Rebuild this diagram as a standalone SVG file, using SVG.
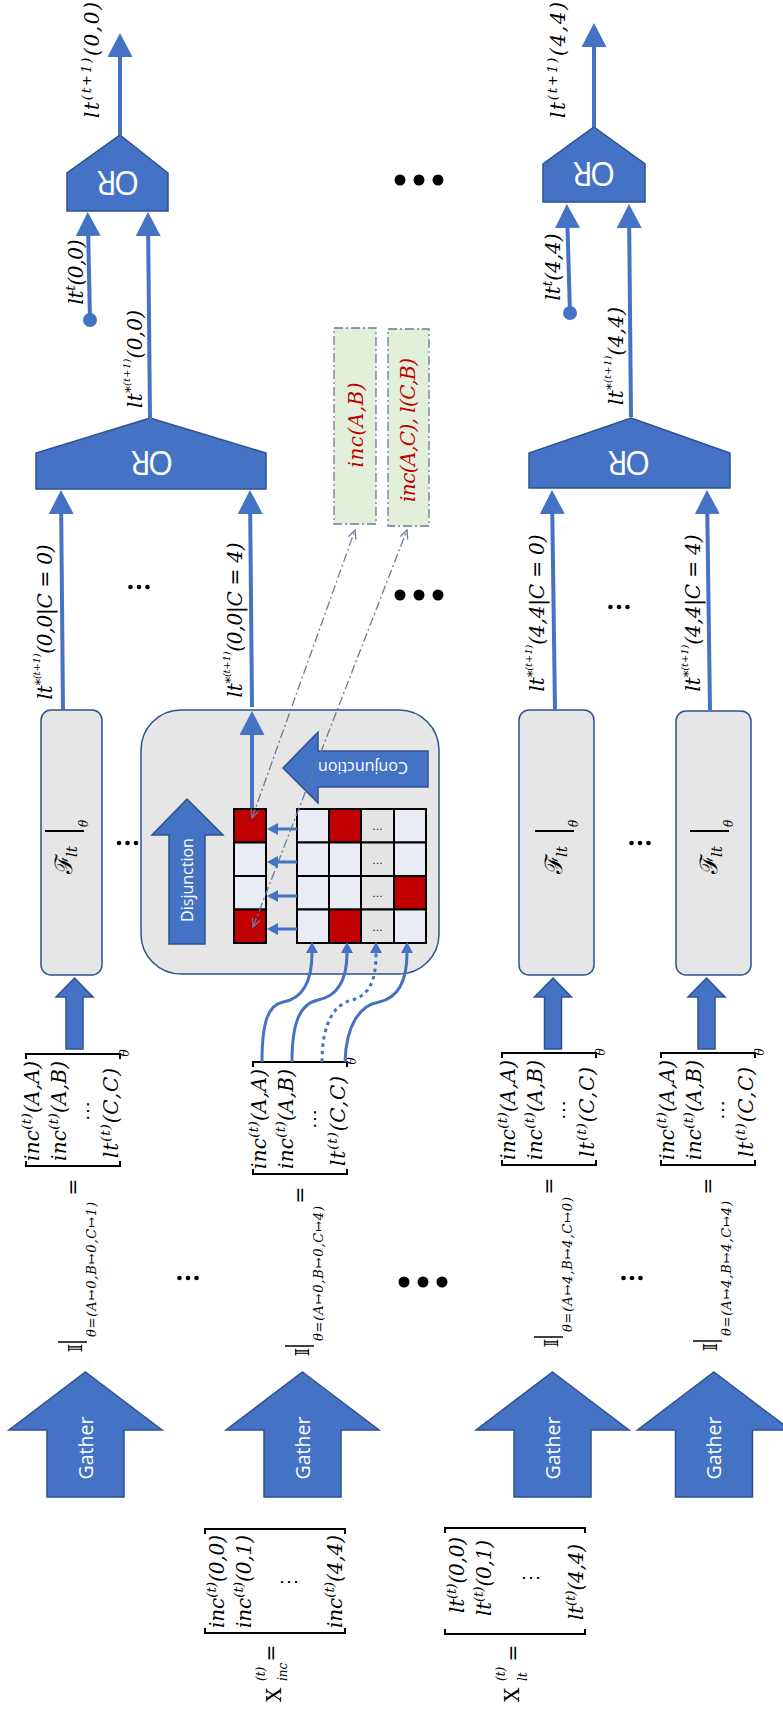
<svg xmlns="http://www.w3.org/2000/svg" width="783" height="1709" viewBox="0 0 783 1709">
<defs>
<style>
.blue{fill:#4472c4;stroke:#2f528f;stroke-width:1.5}
.conn{stroke:#4472c4;stroke-width:4;fill:none}
.thin{stroke:#4472c4;stroke-width:3;fill:none}
.m{font-family:"DejaVu Serif","Liberation Serif",serif;font-style:italic;font-size:20px;fill:#000}
.r{font-style:normal}
.s{font-size:13.5px}
.w{font-family:"Open Sans","Liberation Sans",sans-serif;fill:#fff}
.or{font-size:32px}
.br{fill:none;stroke:#000;stroke-width:2}
.cell{fill:#e9ebf5;stroke:#000;stroke-width:2}
.red{fill:#c00000}
.grey{fill:#e4e4e4}
.fbox{fill:#e6e6e6;stroke:#2f528f;stroke-width:1.5}
.note{fill:#e2efda;stroke:#6a7a99;stroke-width:1.3;stroke-dasharray:9 3 2 3}
.dd{stroke:#6a7a99;stroke-width:1.3;fill:none;stroke-dasharray:9 3 2 3}
.dot{fill:#000}
.rt{fill:#c00000}
</style>
<marker id="ah" markerUnits="userSpaceOnUse" markerWidth="24" markerHeight="25" refX="0" refY="12.5" orient="auto" viewBox="0 0 24 25"><path d="M0,0 L24,12.5 L0,25 z" fill="#4472c4"/></marker>
<marker id="ahs" markerUnits="userSpaceOnUse" markerWidth="11" markerHeight="12" refX="0" refY="6" orient="auto" viewBox="0 0 11 12"><path d="M0,0 L11,6 L0,12 z" fill="#4472c4"/></marker>
<marker id="open" markerUnits="userSpaceOnUse" markerWidth="10" markerHeight="10" refX="9" refY="5" orient="auto-start-reverse" viewBox="0 0 10 10"><path d="M0.5,1 L9,5 L0.5,9" fill="none" stroke="#6a7a99" stroke-width="1.3"/></marker>
</defs>
<rect width="783" height="1709" fill="#fff"/>

<!-- OR gates -->
<g id="or-small-00">
  <polygon class="blue" points="120,135 168,173 168,211 67,211 67,173"/>
  <text class="w or" text-anchor="middle" textLength="42" transform="translate(118,182) rotate(180)" y="11">OR</text>
</g>
<g id="or-small-44">
  <polygon class="blue" points="594,127 645,164 645,202 543,202 543,164"/>
  <text class="w or" text-anchor="middle" textLength="42" transform="translate(594,173) rotate(180)" y="11">OR</text>
</g>
<g id="or-big-00">
  <polygon class="blue" points="150,418 266,453 266,489 36,489 36,453"/>
  <text class="w or" text-anchor="middle" textLength="42" transform="translate(152,462) rotate(180)" y="11">OR</text>
</g>
<g id="or-big-44">
  <polygon class="blue" points="631,418 730,453 730,488 529,488 529,453"/>
  <text class="w or" text-anchor="middle" textLength="42" transform="translate(629,462) rotate(180)" y="11">OR</text>
</g>

<!-- arrow labels -->
<g id="labels">
  <text class="m" text-anchor="middle" textLength="116" transform="translate(99,60) rotate(-90)">lt<tspan class="s" dy="-8">(t+1)</tspan><tspan dy="8">(0,0)</tspan></text>
  <text class="m" text-anchor="middle" textLength="116" transform="translate(565,60) rotate(-90)">lt<tspan class="s" dy="-8">(t+1)</tspan><tspan dy="8">(4,4)</tspan></text>
  <text class="m" text-anchor="middle" textLength="65" transform="translate(83,272) rotate(-90)">lt<tspan class="s" dy="-8">t</tspan><tspan dy="8">(0,0)</tspan></text>
  <text class="m" text-anchor="middle" textLength="67" transform="translate(560,267) rotate(-90)">lt<tspan class="s" dy="-8">t</tspan><tspan dy="8">(4,4)</tspan></text>
  <text class="m" text-anchor="middle" textLength="98" transform="translate(142,359) rotate(-90)">lt<tspan class="s" dy="-7">*</tspan><tspan style="font-size:10px" dy="-5">(t+1)</tspan><tspan dy="12">(0,0)</tspan></text>
  <text class="m" text-anchor="middle" textLength="98" transform="translate(623,356) rotate(-90)">lt<tspan class="s" dy="-7">*</tspan><tspan style="font-size:10px" dy="-5">(t+1)</tspan><tspan dy="12">(4,4)</tspan></text>
  <text class="m" text-anchor="middle" textLength="155" transform="translate(52,622) rotate(-90)">lt<tspan class="s" dy="-7">*</tspan><tspan style="font-size:10px" dy="-5">(t+1)</tspan><tspan dy="12">(0,0|C = 0)</tspan></text>
  <text class="m" text-anchor="middle" textLength="155" transform="translate(242,620) rotate(-90)">lt<tspan class="s" dy="-7">*</tspan><tspan style="font-size:10px" dy="-5">(t+1)</tspan><tspan dy="12">(0,0|C = 4)</tspan></text>
  <text class="m" text-anchor="middle" textLength="157" transform="translate(544,613) rotate(-90)">lt<tspan class="s" dy="-7">*</tspan><tspan style="font-size:10px" dy="-5">(t+1)</tspan><tspan dy="12">(4,4|C = 0)</tspan></text>
  <text class="m" text-anchor="middle" textLength="157" transform="translate(700,613) rotate(-90)">lt<tspan class="s" dy="-7">*</tspan><tspan style="font-size:10px" dy="-5">(t+1)</tspan><tspan dy="12">(4,4|C = 4)</tspan></text>
</g>

<!-- ellipses -->
<g id="ellipses" class="dot">
  <circle cx="400" cy="180" r="5.5"/><circle cx="419" cy="180" r="5.5"/><circle cx="438" cy="180" r="5.5"/>
  <circle cx="400" cy="595" r="5.5"/><circle cx="419" cy="595" r="5.5"/><circle cx="438" cy="595" r="5.5"/>
  <circle cx="404" cy="1282" r="5.5"/><circle cx="423" cy="1282" r="5.5"/><circle cx="442" cy="1282" r="5.5"/>
  <circle cx="130.5" cy="587" r="2.3"/><circle cx="139" cy="587" r="2.3"/><circle cx="147.5" cy="587" r="2.3"/>
  <circle cx="610.5" cy="607" r="2.3"/><circle cx="619" cy="607" r="2.3"/><circle cx="627.5" cy="607" r="2.3"/>
  <circle cx="119" cy="843" r="2.3"/><circle cx="127.5" cy="843" r="2.3"/><circle cx="136" cy="843" r="2.3"/>
  <circle cx="631.5" cy="843" r="2.3"/><circle cx="640" cy="843" r="2.3"/><circle cx="648.5" cy="843" r="2.3"/>
  <circle cx="179.5" cy="1278" r="2.3"/><circle cx="188" cy="1278" r="2.3"/><circle cx="196.5" cy="1278" r="2.3"/>
  <circle cx="623.5" cy="1278" r="2.3"/><circle cx="632" cy="1278" r="2.3"/><circle cx="640.5" cy="1278" r="2.3"/>
</g>

<!-- witness notes -->
<g id="note-incAB">
  <rect class="note" x="334" y="328" width="42" height="196"/>
  <text class="m rt" text-anchor="middle" textLength="85" transform="translate(363,425) rotate(-90)">inc(A,B)</text>
</g>
<g id="note-incAC-lCB">
  <rect class="note" x="388" y="329" width="41" height="197"/>
  <text class="m rt" text-anchor="middle" textLength="144" transform="translate(415,430) rotate(-90)">inc(A,C), l(C,B)</text>
</g>

<!-- F_lt blocks -->
<g id="f-block-1">
  <rect class="fbox" x="41" y="710" width="61" height="265" rx="10"/>
  <text class="m r" style="font-size:24px" transform="translate(72,874) rotate(-90)">ℱ</text>
  <text class="m" style="font-size:15px" transform="translate(77,857) rotate(-90)">lt</text>
  <line x1="45" y1="831" x2="84" y2="831" stroke="#000" stroke-width="2"/>
  <text class="m" style="font-size:12px" transform="translate(88,827) rotate(-90)">θ</text>
</g>
<g id="f-block-3">
  <rect class="fbox" x="519" y="710" width="75" height="265" rx="10"/>
  <g transform="translate(490,0)">
    <text class="m r" style="font-size:24px" transform="translate(72,874) rotate(-90)">ℱ</text>
    <text class="m" style="font-size:15px" transform="translate(77,857) rotate(-90)">lt</text>
    <line x1="45" y1="831" x2="84" y2="831" stroke="#000" stroke-width="2"/>
    <text class="m" style="font-size:12px" transform="translate(88,827) rotate(-90)">θ</text>
  </g>
</g>
<g id="f-block-4">
  <rect class="fbox" x="676" y="711" width="75" height="264" rx="10"/>
  <g transform="translate(645,0)">
    <text class="m r" style="font-size:24px" transform="translate(72,874) rotate(-90)">ℱ</text>
    <text class="m" style="font-size:15px" transform="translate(77,857) rotate(-90)">lt</text>
    <line x1="45" y1="831" x2="84" y2="831" stroke="#000" stroke-width="2"/>
    <text class="m" style="font-size:12px" transform="translate(88,827) rotate(-90)">θ</text>
  </g>
</g>

<!-- expanded F_lt block: conjunction over rows, disjunction over the result -->
<g id="f-block-2-expanded">
  <rect class="fbox" x="141" y="710" width="298" height="264" rx="40"/>
  <polygon class="blue" points="187,799 223,835 205,835 205,944 169,944 169,835 152,835"/>
  <text class="w" style="font-size:16px" text-anchor="middle" transform="translate(193,880) rotate(-90)">Disjunction</text>
  <polygon class="blue" points="283,768 318,732 318,751 428,751 428,787 318,787 318,803"/>
  <text class="w" style="font-size:16px" text-anchor="middle" transform="translate(363,768) rotate(180)" y="5.7">Conjunction</text>
  <path class="conn" d="M252,809 L252,735" marker-end="url(#ah)"/>
  <!-- result column -->
  <rect class="cell red" x="234" y="809" width="32" height="33.5"/>
  <rect class="cell" x="234" y="842.5" width="32" height="33.5"/>
  <rect class="cell" x="234" y="876" width="32" height="33.5"/>
  <rect class="cell red" x="234" y="909.5" width="32" height="33.5"/>
  <!-- truth matrix -->
  <rect class="cell" x="297" y="809" width="32" height="33.5"/>
  <rect class="cell red" x="329" y="809" width="32" height="33.5"/>
  <rect class="cell grey" x="361" y="809" width="33" height="33.5"/>
  <rect class="cell" x="394" y="809" width="32" height="33.5"/>
  <rect class="cell" x="297" y="842.5" width="32" height="33.5"/>
  <rect class="cell" x="329" y="842.5" width="32" height="33.5"/>
  <rect class="cell grey" x="361" y="842.5" width="33" height="33.5"/>
  <rect class="cell" x="394" y="842.5" width="32" height="33.5"/>
  <rect class="cell" x="297" y="876" width="32" height="33.5"/>
  <rect class="cell" x="329" y="876" width="32" height="33.5"/>
  <rect class="cell grey" x="361" y="876" width="33" height="33.5"/>
  <rect class="cell red" x="394" y="876" width="32" height="33.5"/>
  <rect class="cell" x="297" y="909.5" width="32" height="33.5"/>
  <rect class="cell red" x="329" y="909.5" width="32" height="33.5"/>
  <rect class="cell grey" x="361" y="909.5" width="33" height="33.5"/>
  <rect class="cell" x="394" y="909.5" width="32" height="33.5"/>
  <g font-family="Liberation Sans, sans-serif" font-size="11" text-anchor="middle" fill="#000">
    <text x="377.5" y="830">…</text><text x="377.5" y="863.5">…</text><text x="377.5" y="897">…</text><text x="377.5" y="930.5">…</text>
  </g>
  <path class="thin" d="M297,829 L278,829" marker-end="url(#ahs)"/>
  <path class="thin" d="M297,862 L278,862" marker-end="url(#ahs)"/>
  <path class="thin" d="M297,896 L278,896" marker-end="url(#ahs)"/>
  <path class="thin" d="M297,929 L278,929" marker-end="url(#ahs)"/>
</g>

<!-- gathered vectors for each theta -->
<g id="theta-1">
  <path class="br" d="M26,1059 V1054 H120 V1059 M26,1161 V1166 H120 V1161"/>
  <text class="m" text-anchor="middle" textLength="100" transform="translate(39,1111) rotate(-90)">inc<tspan class="s" dy="-8">(t)</tspan><tspan dy="8">(A,A)</tspan></text>
  <text class="m" text-anchor="middle" textLength="100" transform="translate(65.5,1111) rotate(-90)">inc<tspan class="s" dy="-8">(t)</tspan><tspan dy="8">(A,B)</tspan></text>
  <text class="m r" text-anchor="middle" transform="translate(94,1111) rotate(-90)">⋯</text>
  <text class="m" text-anchor="middle" textLength="90" transform="translate(118,1113) rotate(-90)">lt<tspan class="s" dy="-8">(t)</tspan><tspan dy="8">(C,C)</tspan></text>
  <text class="m" style="font-size:12px" text-anchor="middle" transform="translate(129,1053) rotate(-90)">θ</text>
  <text class="m r" text-anchor="middle" transform="translate(80,1187) rotate(-90)">=</text>
  <text class="m r" style="font-size:18px" text-anchor="middle" transform="translate(82,1348) rotate(-90)">𝕀</text>
  <line x1="58" y1="1342" x2="87" y2="1342" stroke="#000" stroke-width="1.5"/>
  <text class="m" style="font-size:13px" textLength="135" transform="translate(96,1337) rotate(-90)">θ=(A↦0,B↦0,C↦1)</text>
</g>
<g id="theta-2" transform="translate(227,8)">
  <path class="br" d="M26,1059 V1054 H120 V1059 M26,1161 V1166 H120 V1161"/>
  <text class="m" text-anchor="middle" textLength="100" transform="translate(39,1111) rotate(-90)">inc<tspan class="s" dy="-8">(t)</tspan><tspan dy="8">(A,A)</tspan></text>
  <text class="m" text-anchor="middle" textLength="100" transform="translate(65.5,1111) rotate(-90)">inc<tspan class="s" dy="-8">(t)</tspan><tspan dy="8">(A,B)</tspan></text>
  <text class="m r" text-anchor="middle" transform="translate(94,1111) rotate(-90)">⋯</text>
  <text class="m" text-anchor="middle" textLength="90" transform="translate(118,1113) rotate(-90)">lt<tspan class="s" dy="-8">(t)</tspan><tspan dy="8">(C,C)</tspan></text>
  <text class="m" style="font-size:12px" text-anchor="middle" transform="translate(129,1053) rotate(-90)">θ</text>
  <text class="m r" text-anchor="middle" transform="translate(80,1187) rotate(-90)">=</text>
  <text class="m r" style="font-size:18px" text-anchor="middle" transform="translate(82,1344) rotate(-90)">𝕀</text>
  <line x1="58" y1="1338" x2="87" y2="1338" stroke="#000" stroke-width="1.5"/>
  <text class="m" style="font-size:13px" textLength="135" transform="translate(96,1333) rotate(-90)">θ=(A↦0,B↦0,C↦4)</text>
</g>
<g id="theta-3" transform="translate(476,-1)">
  <path class="br" d="M26,1059 V1054 H120 V1059 M26,1161 V1166 H120 V1161"/>
  <text class="m" text-anchor="middle" textLength="100" transform="translate(39,1111) rotate(-90)">inc<tspan class="s" dy="-8">(t)</tspan><tspan dy="8">(A,A)</tspan></text>
  <text class="m" text-anchor="middle" textLength="100" transform="translate(65.5,1111) rotate(-90)">inc<tspan class="s" dy="-8">(t)</tspan><tspan dy="8">(A,B)</tspan></text>
  <text class="m r" text-anchor="middle" transform="translate(94,1111) rotate(-90)">⋯</text>
  <text class="m" text-anchor="middle" textLength="90" transform="translate(118,1113) rotate(-90)">lt<tspan class="s" dy="-8">(t)</tspan><tspan dy="8">(C,C)</tspan></text>
  <text class="m" style="font-size:12px" text-anchor="middle" transform="translate(129,1053) rotate(-90)">θ</text>
  <text class="m r" text-anchor="middle" transform="translate(80,1187) rotate(-90)">=</text>
  <text class="m r" style="font-size:18px" text-anchor="middle" transform="translate(82,1344) rotate(-90)">𝕀</text>
  <line x1="58" y1="1338" x2="87" y2="1338" stroke="#000" stroke-width="1.5"/>
  <text class="m" style="font-size:13px" textLength="135" transform="translate(96,1333) rotate(-90)">θ=(A↦4,B↦4,C↦0)</text>
</g>
<g id="theta-4" transform="translate(635,-1)">
  <path class="br" d="M26,1059 V1054 H120 V1059 M26,1161 V1166 H120 V1161"/>
  <text class="m" text-anchor="middle" textLength="100" transform="translate(39,1111) rotate(-90)">inc<tspan class="s" dy="-8">(t)</tspan><tspan dy="8">(A,A)</tspan></text>
  <text class="m" text-anchor="middle" textLength="100" transform="translate(65.5,1111) rotate(-90)">inc<tspan class="s" dy="-8">(t)</tspan><tspan dy="8">(A,B)</tspan></text>
  <text class="m r" text-anchor="middle" transform="translate(94,1111) rotate(-90)">⋯</text>
  <text class="m" text-anchor="middle" textLength="90" transform="translate(118,1113) rotate(-90)">lt<tspan class="s" dy="-8">(t)</tspan><tspan dy="8">(C,C)</tspan></text>
  <text class="m" style="font-size:12px" text-anchor="middle" transform="translate(129,1053) rotate(-90)">θ</text>
  <text class="m r" text-anchor="middle" transform="translate(80,1187) rotate(-90)">=</text>
  <text class="m r" style="font-size:18px" text-anchor="middle" transform="translate(82,1348) rotate(-90)">𝕀</text>
  <line x1="58" y1="1342" x2="87" y2="1342" stroke="#000" stroke-width="1.5"/>
  <text class="m" style="font-size:13px" textLength="135" transform="translate(96,1337) rotate(-90)">θ=(A↦4,B↦4,C↦4)</text>
</g>

<!-- gather operations -->
<g id="gather-1">
  <polygon class="blue" points="85.5,1372 162,1430 124,1430 124,1497 47,1497 47,1430 9,1430"/>
  <text class="w" style="font-size:19.5px" text-anchor="middle" transform="translate(92.5,1448) rotate(-90)">Gather</text>
</g>
<g id="gather-2">
  <polygon class="blue" points="302.5,1372 379,1430 341,1430 341,1497 264,1497 264,1430 226,1430"/>
  <text class="w" style="font-size:19.5px" text-anchor="middle" transform="translate(309.5,1448) rotate(-90)">Gather</text>
</g>
<g id="gather-3">
  <polygon class="blue" points="552.5,1372 629,1430 591,1430 591,1497 514,1497 514,1430 476,1430"/>
  <text class="w" style="font-size:19.5px" text-anchor="middle" transform="translate(559.5,1448) rotate(-90)">Gather</text>
</g>
<g id="gather-4">
  <polygon class="blue" points="714,1372 790.5,1430 752.5,1430 752.5,1497 675.5,1497 675.5,1430 637.5,1430"/>
  <text class="w" style="font-size:19.5px" text-anchor="middle" transform="translate(721,1448) rotate(-90)">Gather</text>
</g>

<!-- input tensors -->
<g id="x-inc">
  <path class="br" d="M205,1534 V1529 H345 V1534 M205,1628 V1633 H345 V1628"/>
  <text class="m" textLength="93" transform="translate(224,1628) rotate(-90)">inc<tspan class="s" dy="-8">(t)</tspan><tspan dy="8">(0,0)</tspan></text>
  <text class="m" textLength="93" transform="translate(251,1628) rotate(-90)">inc<tspan class="s" dy="-8">(t)</tspan><tspan dy="8">(0,1)</tspan></text>
  <text class="m r" text-anchor="middle" transform="translate(294.5,1582) rotate(-90)">⋮</text>
  <text class="m" textLength="93" transform="translate(342,1628) rotate(-90)">inc<tspan class="s" dy="-8">(t)</tspan><tspan dy="8">(4,4)</tspan></text>
  <text class="m r" text-anchor="middle" transform="translate(278,1653) rotate(-90)">=</text>
  <text class="m r" style="font-size:20px" transform="translate(281,1702) rotate(-90)">X</text>
  <text class="m" style="font-size:12px" transform="translate(265,1681) rotate(-90)">(t)</text>
  <text class="m" style="font-size:12px" transform="translate(287,1681) rotate(-90)">inc</text>
</g>
<g id="x-lt">
  <path class="br" d="M445,1533 V1528 H585 V1533 M445,1629 V1634 H585 V1629"/>
  <text class="m" textLength="76" transform="translate(464,1613) rotate(-90)">lt<tspan class="s" dy="-8">(t)</tspan><tspan dy="8">(0,0)</tspan></text>
  <text class="m" textLength="76" transform="translate(491,1616) rotate(-90)">lt<tspan class="s" dy="-8">(t)</tspan><tspan dy="8">(0,1)</tspan></text>
  <text class="m r" text-anchor="middle" transform="translate(536.5,1578) rotate(-90)">⋮</text>
  <text class="m" textLength="76" transform="translate(583,1620) rotate(-90)">lt<tspan class="s" dy="-8">(t)</tspan><tspan dy="8">(4,4)</tspan></text>
  <text class="m r" text-anchor="middle" transform="translate(520,1653) rotate(-90)">=</text>
  <text class="m r" style="font-size:20px" transform="translate(519,1702) rotate(-90)">X</text>
  <text class="m" style="font-size:12px" transform="translate(505,1681) rotate(-90)">(t)</text>
  <text class="m" style="font-size:12px" transform="translate(527,1681) rotate(-90)">lt</text>
</g>

<!-- connectors (drawn last so they sit on top of the blocks) -->
<g id="connectors">
  <path class="conn" d="M120,135 L120,57" marker-end="url(#ah)"/>
  <path class="conn" d="M594,127 L594,47" marker-end="url(#ah)"/>
  <path class="conn" d="M90,320 L88.2,236" marker-end="url(#ah)"/>
  <circle cx="90" cy="320" r="7" fill="#4472c4"/>
  <path class="conn" d="M150,419 L148.2,236" marker-end="url(#ah)"/>
  <path class="conn" d="M570,313 L567.5,228" marker-end="url(#ah)"/>
  <circle cx="570" cy="313" r="7" fill="#4472c4"/>
  <path class="conn" d="M631,417 L629.2,228" marker-end="url(#ah)"/>
  <path class="conn" d="M63,710 L61.2,514" marker-end="url(#ah)"/>
  <path class="conn" d="M252,707 L250.2,514" marker-end="url(#ah)"/>
  <path class="conn" d="M555,710 L552.3,514" marker-end="url(#ah)"/>
  <path class="conn" d="M710,710 L707.3,514" marker-end="url(#ah)"/>
  <!-- gathered vectors into the F blocks -->
  <polygon class="blue" points="74.5,978 93,997 83,997 83,1049 66,1049 66,997 56,997"/>
  <polygon class="blue" points="553,978 571.5,997 561.5,997 561.5,1049 544.5,1049 544.5,997 534.5,997"/>
  <polygon class="blue" points="706.5,978 725,997 715,997 715,1049 698,1049 698,997 688,997"/>
  <!-- vector entries into the matrix -->
  <path class="thin" d="M262,1062 C262,1022 268,1005 283,1002 C300,999 312,985 312,953" marker-end="url(#ahs)"/>
  <path class="thin" d="M292,1062 C292,1022 300,1004 318,1000 C338,996 347,980 347,953" marker-end="url(#ahs)"/>
  <path class="thin" d="M322,1062 C322,1022 335,1004 352,1000 C370,995 376,980 376,953" stroke-dasharray="3.5 4" marker-end="url(#ahs)"/>
  <path class="thin" d="M345,1062 C346,1025 360,1005 379,1002 C398,998 407,982 407,953" marker-end="url(#ahs)"/>
  <!-- witness links -->
  <path class="dd" d="M252,818 L355,530" marker-start="url(#open)" marker-end="url(#open)"/>
  <path class="dd" d="M253,927 L407,530" marker-start="url(#open)" marker-end="url(#open)"/>
</g>
</svg>
